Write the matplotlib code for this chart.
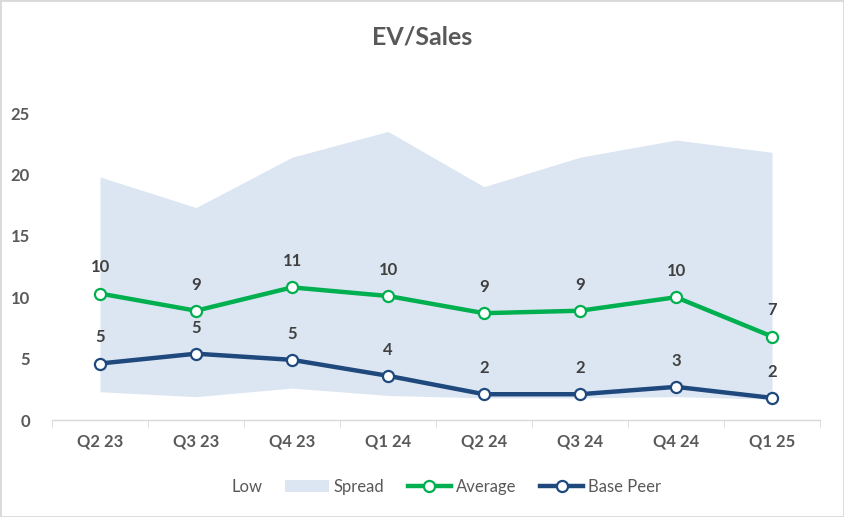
import numpy as np
import matplotlib.pyplot as plt
from matplotlib.patches import Patch, Rectangle
from matplotlib.lines import Line2D

plt.rcParams['font.family'] = ['Lato', 'DejaVu Sans']

quarters = ["Q2 23", "Q3 23", "Q4 23", "Q1 24", "Q2 24", "Q3 24", "Q4 24", "Q1 25"]
low = [2.3, 1.9, 2.6, 2.0, 1.8, 1.8, 1.9, 1.7]
high = [19.8, 17.3, 21.4, 23.5, 19.0, 21.4, 22.8, 21.8]
average = [10.3, 8.9, 10.8, 10.1, 8.7, 8.9, 10.0, 6.8]
base_peer = [4.6, 5.4, 4.9, 3.6, 2.1, 2.1, 2.7, 1.8]

TEXT = "#595959"
GREEN = "#00B050"
NAVY = "#1F497D"
SPREAD = "#DCE6F2"

fig = plt.figure(figsize=(8.44, 5.17), dpi=100)
ax = fig.add_axes([0.0616, 0.1876, 0.91, 0.5938])
fig.patches.append(Rectangle((0, 0), 1, 1, transform=fig.transFigure,
                             fill=False, edgecolor="#D9D9D9", linewidth=2))

x = np.arange(len(quarters))
ax.fill_between(x, low, high, color=SPREAD, linewidth=0, zorder=1)
ax.plot(x, average, color=GREEN, lw=3.2, marker="o", ms=8, mfc="white",
        mec=GREEN, mew=1.6, zorder=3)
ax.plot(x, base_peer, color=NAVY, lw=3.2, marker="o", ms=8, mfc="white",
        mec=NAVY, mew=1.6, zorder=3)

for xi, v in zip(x, average):
    ax.annotate(f"{v:.0f}", (xi, v), xytext=(0, 13), textcoords="offset points",
                ha="center", va="bottom", fontsize=12, fontweight="bold", color="#404040")
for xi, v in zip(x, base_peer):
    ax.annotate(f"{v:.0f}", (xi, v), xytext=(0, 13), textcoords="offset points",
                ha="center", va="bottom", fontsize=12, fontweight="bold", color="#404040")

ax.set_xlim(-0.5, len(quarters) - 0.5)
ax.set_ylim(0, 25)
ax.set_yticks([0, 5, 10, 15, 20, 25])
ax.set_xticks(x)
ax.set_xticklabels(quarters)
ax.set_xticks(np.arange(-0.5, len(quarters)), minor=True)
ax.tick_params(axis="x", which="major", length=0, pad=10, labelsize=12, labelcolor=TEXT)
ax.tick_params(axis="x", which="minor", length=6, color="#D9D9D9", direction="out")
ax.tick_params(axis="y", length=0, pad=16, labelsize=12, labelcolor=TEXT)
for lab in ax.get_xticklabels() + ax.get_yticklabels():
    lab.set_fontweight("bold")
for side in ["top", "right", "left"]:
    ax.spines[side].set_visible(False)
ax.spines["bottom"].set_color("#D9D9D9")
ax.spines["bottom"].set_linewidth(1)

fig.text(0.5, 0.928, "EV/Sales", ha="center", va="center", fontsize=18,
         fontweight="bold", color=TEXT)

handles = [
    Line2D([], [], color="none"),
    Patch(facecolor=SPREAD, edgecolor="none"),
    Line2D([], [], color=GREEN, lw=3.2, marker="o", ms=8, mfc="white", mec=GREEN, mew=1.6),
    Line2D([], [], color=NAVY, lw=3.2, marker="o", ms=8, mfc="white", mec=NAVY, mew=1.6),
]
fig.legend(handles, ["Low", "Spread", "Average", "Base Peer"], loc="center",
           bbox_to_anchor=(0.5, 0.058), ncol=4, frameon=False, fontsize=12,
           labelcolor=TEXT, handlelength=2.6, handletextpad=0.3, columnspacing=1.4)

fig.savefig("out.png", dpi=100)
